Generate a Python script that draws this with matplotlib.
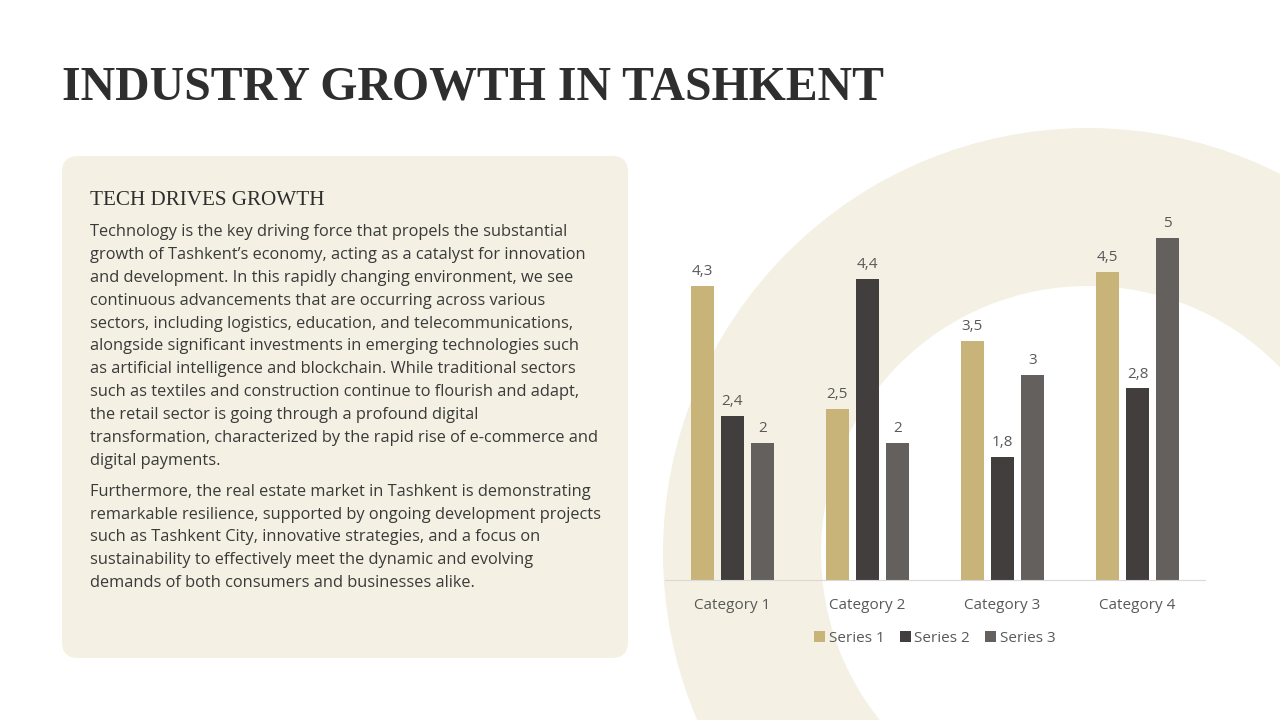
import matplotlib
matplotlib.use("Agg")
import matplotlib.pyplot as plt
import numpy as np
from matplotlib.patches import Wedge, FancyBboxPatch

# chart data
categories = ["Category 1", "Category 2", "Category 3", "Category 4"]
series_names = ["Series 1", "Series 2", "Series 3"]
series1 = [4.3, 2.5, 3.5, 4.5]
series2 = [2.4, 4.4, 1.8, 2.8]
series3 = [2, 2, 3, 5]
colors = ["#C8B479", "#413E3D", "#63605E"]

title = "INDUSTRY GROWTH IN TASHKENT"
subtitle = "TECH DRIVES GROWTH"
para1 = [
    "Technology is the key driving force that propels the substantial",
    "growth of Tashkent\u2019s economy, acting as a catalyst for innovation",
    "and development. In this rapidly changing environment, we see",
    "continuous advancements that are occurring across various",
    "sectors, including logistics, education, and telecommunications,",
    "alongside significant investments in emerging technologies such",
    "as artificial intelligence and blockchain. While traditional sectors",
    "such as textiles and construction continue to flourish and adapt,",
    "the retail sector is going through a profound digital",
    "transformation, characterized by the rapid rise of e-commerce and",
    "digital payments.",
]
para2 = [
    "Furthermore, the real estate market in Tashkent is demonstrating",
    "remarkable resilience, supported by ongoing development projects",
    "such as Tashkent City, innovative strategies, and a focus on",
    "sustainability to effectively meet the dynamic and evolving",
    "demands of both consumers and businesses alike.",
]

W, H = 1280, 720
fig = plt.figure(figsize=(12.8, 7.2), dpi=100)
fig.patch.set_facecolor("white")

# background layer in pixel coords
bg = fig.add_axes([0, 0, 1, 1])
bg.set_xlim(0, W)
bg.set_ylim(H, 0)
bg.axis("off")

bg.add_patch(Wedge((1088, 553), 425, 0, 360, width=158,
                   facecolor="#F4F0E3", edgecolor="none"))
bg.add_patch(FancyBboxPatch((62, 156), 566, 502,
                            boxstyle="round,pad=0,rounding_size=16",
                            facecolor="#F4F0E3", edgecolor="none"))

bg.text(62, 100, title, fontsize=34.4, fontweight="bold",
        family="Liberation Serif", color="#2E2E2E", va="baseline")
bg.text(90, 205, subtitle, fontsize=15.2, family="Liberation Serif",
        color="#2E2E2E", va="baseline")

body_font = dict(fontsize=11.75, family="Open Sans", color="#3A3A3A", va="baseline")
y = 236
for line in para1:
    bg.text(90, y, line, **body_font)
    y += 22.9
y = 496
for line in para2:
    bg.text(90, y, line, **body_font)
    y += 22.7

# bar chart
ax_left, ax_right, ax_base = 665, 1205, 580
ymax = 5.5
px_per_unit = (580 - 238) / 5
ax_h = ymax * px_per_unit
ax = fig.add_axes([ax_left / W, (H - ax_base) / H,
                   (ax_right - ax_left) / W, ax_h / H])
ax.patch.set_alpha(0)
ax.set_xlim(-0.5, len(categories) - 0.5)
ax.set_ylim(0, ymax)

x = np.arange(len(categories))
bw = 23 / 134.5
step = 30 / 134.5
for i, (vals, name, c) in enumerate(zip([series1, series2, series3], series_names, colors)):
    pos = x + (i - 1) * step
    bars = ax.bar(pos, vals, width=bw, color=c, label=name)
    for b, v in zip(bars, vals):
        lbl = ("%g" % v).replace(".", ",")
        ax.annotate(lbl, (b.get_x() + b.get_width() / 2, v),
                    xytext=(0, 5), textcoords="offset points",
                    ha="center", va="bottom", fontsize=11,
                    family="Open Sans", color="#595959", annotation_clip=False)

for s in ["top", "right", "left"]:
    ax.spines[s].set_visible(False)
ax.spines["bottom"].set_color("#D9D9D9")
ax.set_yticks([])
ax.set_xticks(x)
ax.set_xticklabels(categories, family="Open Sans", fontsize=11, color="#595959")
ax.tick_params(axis="x", length=0, pad=13)

leg = ax.legend(loc="upper center", bbox_to_anchor=(0.5, -0.098), ncol=3,
                frameon=False, handlelength=0.7, handleheight=0.7,
                handletextpad=0.25, columnspacing=1.0,
                prop={"family": "Open Sans", "size": 11})
for t in leg.get_texts():
    t.set_color("#595959")

fig.savefig("out.png", dpi=100, facecolor="white")
